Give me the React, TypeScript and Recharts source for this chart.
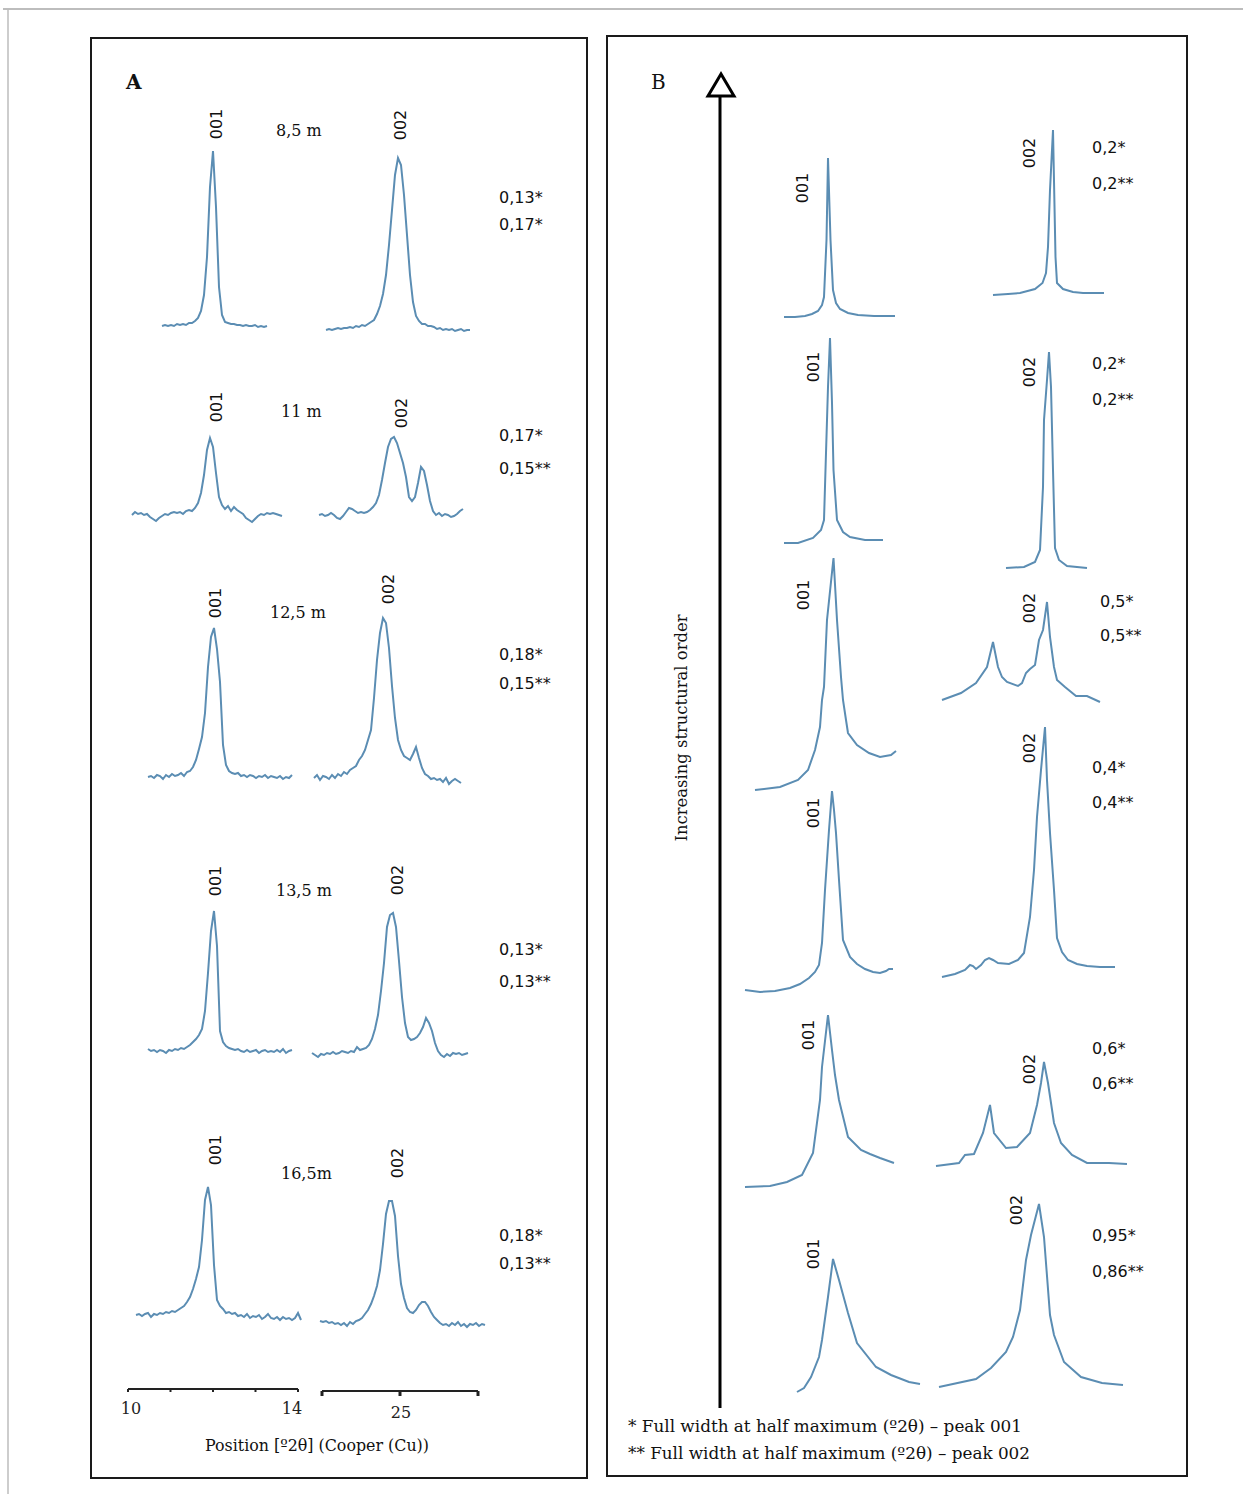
import { LineChart, Line, XAxis, YAxis } from 'recharts';

// ---- panel A: measured XRD profiles (counts above background, sampling step = 3 units) ----
const a1_001 = [1, 2, 1, 2, 1, 3, 2, 3, 2, 4, 4, 6, 9, 16, 32, 70, 140, 176, 120, 40, 12, 5, 4, 3, 3, 2, 2, 1, 2, 1, 1, 2, 0, 1, 0, 1];
const a1_002 = [0, 1, 0, 1, 2, 1, 2, 2, 3, 2, 4, 3, 5, 4, 6, 8, 10, 16, 24, 36, 55, 85, 120, 155, 172, 165, 135, 95, 55, 28, 14, 9, 6, 6, 4, 4, 3, 1, 2, 0, 1, 0, 1, -1, 0, 1, -1, 0, 0];
const a2_001 = [0, 3, 1, 2, 0, 1, -2, -4, -6, -3, -1, 1, 0, 2, 3, 2, 3, 1, 4, 5, 4, 7, 12, 22, 40, 65, 77, 68, 42, 18, 10, 6, 9, 4, 8, 5, 3, 1, -3, -5, -7, -4, -1, 1, 0, 2, 1, 2, 1, 0, -1];
const a2_002 = [0, 1, -1, 0, 2, 0, -3, -4, -1, 3, 7, 6, 4, 2, 3, 2, 3, 5, 8, 12, 20, 35, 52, 68, 76, 78, 72, 62, 52, 38, 18, 14, 18, 32, 48, 44, 30, 14, 4, 0, 2, -1, 1, 0, -2, -1, 1, 4, 6];
const a3_001 = [0, 1, -1, 2, 1, -2, 2, 0, 3, 1, 2, 4, 1, 5, 6, 10, 17, 28, 40, 64, 110, 140, 149, 128, 95, 32, 12, 6, 4, 3, 4, 1, 2, 0, 2, 1, -1, 1, 0, 2, -1, 1, 0, -1, 1, -2, 0, -1, 2];
const a3_002 = [0, 3, -2, 2, 1, -1, 3, 0, 4, 2, 6, 4, 8, 10, 12, 18, 22, 28, 38, 48, 80, 118, 145, 160, 155, 130, 92, 60, 38, 28, 22, 20, 18, 24, 31, 20, 10, 4, 2, -1, 0, -2, -1, -4, 0, -6, -3, -1, -3, -5];
const a4_001 = [2, 0, 1, -1, 1, 0, -2, 1, 0, 2, 1, 3, 2, 4, 6, 9, 12, 16, 22, 40, 78, 120, 140, 105, 20, 9, 5, 3, 2, 1, 2, 0, -1, 1, -1, 0, 1, -2, 0, 1, -1, 0, -1, 1, -1, 2, -2, 0, 1];
const a4_002 = [0, -2, -4, -1, -2, 0, -1, 1, -1, 0, 2, 1, 0, 2, 1, 6, 3, 4, 5, 8, 14, 24, 38, 62, 90, 126, 138, 140, 126, 92, 56, 30, 16, 13, 14, 16, 20, 26, 35, 30, 22, 10, 2, -2, -4, -1, -3, 0, -1, 0, -2, -1, 0];
const a5_001 = [0, 1, -1, 1, 2, -2, 1, 0, 2, 1, 3, 2, 4, 3, 5, 7, 9, 13, 18, 26, 36, 48, 75, 115, 128, 110, 50, 15, 9, 6, 2, 3, 1, 2, -1, 0, -2, 1, -3, -1, -2, 0, -4, -2, 1, -3, -4, -2, -5, -2, -4, -3, -5, -3, 2, -5];
const a5_002 = [1, 0, 1, -1, 0, -2, -1, -3, -1, -4, 0, -2, 1, 2, 4, 8, 12, 18, 26, 36, 52, 78, 108, 121, 121, 106, 66, 38, 24, 14, 10, 9, 12, 17, 20, 20, 16, 10, 5, 2, -1, -3, -2, -4, -1, -3, 0, -4, -2, -5, -2, -3, -1, -4, -2, -3];

// ---- panel B: reference profiles as [position offset, counts] ----
const b1_001: [number, number][] = [[0, 0], [11, 0], [21, 1], [28, 3], [34, 6], [38, 12], [40, 20], [42.5, 77], [44, 159], [46.5, 77], [49, 27], [52, 14], [56, 8], [64, 4], [74, 2], [90, 1], [111, 1]];
const b1_002: [number, number][] = [[0, 0], [15, 1], [27, 2], [42, 6], [49.5, 12], [53, 22], [55, 48], [57, 105], [60, 165], [62.5, 38], [64, 12], [70, 6], [80, 3], [90, 2], [111, 2]];
const b2_001: [number, number][] = [[0, 0], [14, 0], [29, 5], [37, 13], [40, 23], [42, 90], [44, 156], [46, 205], [48, 140], [49.5, 73], [53, 23], [59, 11], [66, 6], [81, 3], [99, 3]];
const b2_002: [number, number][] = [[0, 0], [18, 1], [29, 6], [34, 18], [37, 81], [38, 148], [41, 188], [43, 216], [45, 181], [47, 98], [49, 20], [53, 8], [61, 2], [81, 0]];
const b3_001: [number, number][] = [[0, 0], [25, 3], [43, 10], [53, 20], [60, 40], [65, 63], [67, 90], [69, 103], [72, 170], [78.5, 232], [82, 170], [86, 113], [88, 90], [91, 70], [93, 57], [102, 45], [114, 37], [125, 33], [136, 35], [141, 39]];
const b3_002: [number, number][] = [[0, 2], [19, 9], [34, 19], [45, 35], [51, 60], [56, 35], [60, 25], [65, 20], [76, 16], [80, 19], [84, 29], [88, 33], [93, 37], [97, 62], [101, 72], [105, 100], [108, 65], [112, 35], [115, 22], [123, 15], [134, 6], [145, 6], [158, 0]];
const b4_001: [number, number][] = [[0, 2], [15, 0], [30, 1], [45, 4], [55, 8], [64, 14], [70, 20], [74, 27], [77, 49], [80, 102], [84, 162], [87, 201], [89, 182], [91, 159], [94, 112], [98, 52], [105, 35], [112, 28], [120, 23], [128, 20], [135, 19], [141, 21], [144, 23], [148, 23]];
const b4_002: [number, number][] = [[0, 0], [13, 3], [23, 7], [28, 12], [31, 11], [34, 8], [39, 12], [43, 17], [47, 19], [51, 17], [56, 14], [67, 13], [76, 17], [82, 24], [88, 60], [92, 107], [95, 160], [99, 207], [103, 250], [105, 197], [108, 144], [112, 87], [115, 39], [120, 25], [126, 17], [135, 13], [145, 11], [158, 10], [173, 10]];
const b5_001: [number, number][] = [[0, 0], [25, 1], [42, 5], [57, 12], [68, 34], [75, 87], [77, 120], [83, 172], [87, 137], [90, 112], [94, 87], [103, 50], [116, 37], [125, 33], [135, 29], [149, 24]];
const b5_002: [number, number][] = [[0, 0], [23, 3], [29, 11], [38, 12], [47, 33], [54, 61], [58, 33], [70, 18], [81, 19], [94, 33], [101, 61], [105, 83], [108, 104], [112, 83], [118, 43], [125, 23], [136, 11], [151, 3], [173, 3], [191, 2]];
const b6_001: [number, number][] = [[0, 0], [7, 4], [14, 15], [22, 35], [25, 52], [31, 95], [36, 133], [42, 112], [51, 79], [60, 49], [79, 25], [94, 17], [112, 10], [123, 8]];
const b6_002: [number, number][] = [[0, 0], [37, 8], [52, 19], [67, 35], [74, 50], [81, 77], [87, 127], [92, 152], [100, 183], [105, 150], [111, 72], [115, 52], [125, 25], [142, 10], [163, 4], [184, 2]];

// tick values for the position scale bars under panel A
const ticks001 = [10, 11, 12, 13, 14];
const ticks002 = [24, 25, 26];

const STEP = 3;
const BLUE = '#5b8db3';
const SERIF = '"DejaVu Serif", serif';
const SANS = '"DejaVu Sans", sans-serif';

type Pt = { x: number; y: number };
const fromSteps = (v: number[]): Pt[] => v.map((y, i) => ({ x: i * STEP, y }));
const fromPairs = (p: [number, number][]): Pt[] => p.map(([x, y]) => ({ x, y }));

// left = page x of first sample, base = page y of zero counts
function Trace({ data, left, base }: { data: Pt[]; left: number; base: number }) {
  const w = data[data.length - 1].x;
  const h = Math.max(...data.map((d) => d.y));
  const padB = 10;
  const padT = 4;
  const padX = 2;
  return (
    <div style={{ position: 'absolute', left: left - padX, top: base - h - padT }}>
      <LineChart width={w + padX * 2} height={h + padT + padB} data={data} margin={{ top: 0, right: 0, bottom: 0, left: 0 }}>
        <XAxis type="number" dataKey="x" domain={[-padX, w + padX]} hide />
        <YAxis type="number" domain={[-padB, h + padT]} hide />
        <Line type="linear" dataKey="y" stroke={BLUE} strokeWidth={2} dot={false} isAnimationActive={false} />
      </LineChart>
    </div>
  );
}

function ScaleBar({ ticks, label, nudge, left, y, width, tickSize, tickW }: {
  ticks: number[]; label: number[]; nudge: number[]; left: number; y: number; width: number; tickSize: number; tickW: number;
}) {
  const m = 12;
  const data = [{ x: ticks[0] }, { x: ticks[ticks.length - 1] }];
  const renderTick = (p: any) => {
    const v = p.payload.value;
    const k = label.indexOf(v);
    if (k < 0) return <g />;
    return (
      <text x={p.x + nudge[k]} y={p.y} dy={13} textAnchor="middle" fill="#222" fontSize={16} fontFamily={SERIF}>
        {v}
      </text>
    );
  };
  return (
    <div style={{ position: 'absolute', left: left - m, top: y - 10 }}>
      <LineChart width={width + m * 2} height={60} data={data} margin={{ top: 0, right: m, bottom: 0, left: m }}>
        <XAxis
          type="number"
          dataKey="x"
          domain={[ticks[0], ticks[ticks.length - 1]]}
          ticks={ticks}
          interval={0}
          height={50}
          tickSize={tickSize}
          tickMargin={9}
          axisLine={{ stroke: '#222', strokeWidth: 2 }}
          tickLine={{ stroke: '#222', strokeWidth: tickW }}
          tick={renderTick}
        />
        <YAxis type="number" domain={[0, 1]} hide />
        <Line dataKey="y" stroke="none" dot={false} isAnimationActive={false} />
      </LineChart>
    </div>
  );
}

const tracesA = [
  { d: a1_001, left: 162, base: 327 }, { d: a1_002, left: 326, base: 330 },
  { d: a2_001, left: 132, base: 515 }, { d: a2_002, left: 319, base: 515 },
  { d: a3_001, left: 148, base: 777 }, { d: a3_002, left: 314, base: 778 },
  { d: a4_001, left: 148, base: 1051 }, { d: a4_002, left: 312, base: 1053 },
  { d: a5_001, left: 136, base: 1315 }, { d: a5_002, left: 320, base: 1322 },
];
const tracesB = [
  { d: b1_001, left: 784, base: 317 }, { d: b1_002, left: 993, base: 295 },
  { d: b2_001, left: 784, base: 543 }, { d: b2_002, left: 1006, base: 568 },
  { d: b3_001, left: 755, base: 790 }, { d: b3_002, left: 942, base: 702 },
  { d: b4_001, left: 745, base: 992 }, { d: b4_002, left: 942, base: 977 },
  { d: b5_001, left: 745, base: 1187 }, { d: b5_002, left: 936, base: 1166 },
  { d: b6_001, left: 797, base: 1392 }, { d: b6_002, left: 939, base: 1387 },
];

// [text, cx, cy]
const peakLabels: [string, number, number][] = [
  ['001', 216, 124], ['002', 400, 125], ['001', 216, 407], ['002', 401, 413],
  ['001', 215, 603], ['002', 388, 589], ['001', 215, 881], ['002', 397, 880],
  ['001', 215, 1150], ['002', 397, 1163],
  ['001', 802, 188], ['002', 1029, 153], ['001', 813, 367], ['002', 1029, 372],
  ['001', 803, 595], ['002', 1029, 608], ['001', 813, 813], ['002', 1029, 748],
  ['001', 808, 1035], ['002', 1029, 1069], ['001', 813, 1254], ['002', 1016, 1210],
];
const depths: [string, number, number][] = [
  ['8,5 m', 276, 130], ['11 m', 281, 411], ['12,5 m', 270, 612], ['13,5 m', 276, 890], ['16,5m', 281, 1173],
];
const fwhm: [string, number, number][] = [
  ['0,13*', 499, 197], ['0,17*', 499, 224], ['0,17*', 499, 435], ['0,15**', 499, 468],
  ['0,18*', 499, 654], ['0,15**', 499, 683], ['0,13*', 499, 949], ['0,13**', 499, 981],
  ['0,18*', 499, 1235], ['0,13**', 499, 1263],
  ['0,2*', 1092, 147], ['0,2**', 1092, 183], ['0,2*', 1092, 363], ['0,2**', 1092, 399],
  ['0,5*', 1100, 601], ['0,5**', 1100, 635], ['0,4*', 1092, 767], ['0,4**', 1092, 802],
  ['0,6*', 1092, 1048], ['0,6**', 1092, 1083], ['0,95*', 1092, 1235], ['0,86**', 1092, 1271],
];

export default function App() {
  return (
    <div style={{ position: 'absolute', left: 0, top: 0, width: 1243, height: 1494, background: '#fff', overflow: 'hidden' }}>
      <svg width={1243} height={1494} style={{ position: 'absolute', left: 0, top: 0 }}>
        <line x1={3} y1={9} x2={1243} y2={9} stroke="#bdbdbd" strokeWidth={2} />
        <line x1={8} y1={9} x2={8} y2={1494} stroke="#bdbdbd" strokeWidth={1.5} />
        <rect x={91} y={38} width={496} height={1440} fill="none" stroke="#1a1a1a" strokeWidth={2} />
        <rect x={607} y={36} width={580} height={1440} fill="none" stroke="#1a1a1a" strokeWidth={2} />
        <text x={126} y={89} fontFamily={SERIF} fontWeight="bold" fontSize={20} fill="#111">A</text>
        <text x={651} y={89} fontFamily={SERIF} fontSize={20} fill="#111">B</text>
        <line x1={720} y1={94} x2={720} y2={1408} stroke="#000" strokeWidth={3} />
        <polygon points="721,74 708,96 734,96" fill="#fff" stroke="#000" strokeWidth={3} strokeLinejoin="miter" />
        <text transform="translate(681,728) rotate(-90)" textAnchor="middle" dominantBaseline="central"
          fontFamily={SERIF} fontSize={16} textLength={227} lengthAdjust="spacingAndGlyphs" fill="#111">
          Increasing structural order
        </text>
        {peakLabels.map(([t, x, y], i) => (
          <text key={'p' + i} transform={`translate(${x},${y}) rotate(-90)`} textAnchor="middle"
            dominantBaseline="central" fontFamily={SANS} fontSize={16} fill="#111">{t}</text>
        ))}
        {depths.map(([t, x, y], i) => (
          <text key={'d' + i} x={x} y={y} dominantBaseline="central" fontFamily={SERIF} fontSize={16} fill="#111">{t}</text>
        ))}
        {fwhm.map(([t, x, y], i) => (
          <text key={'f' + i} x={x} y={y} dominantBaseline="central" fontFamily={SANS} fontSize={16} fill="#111">{t}</text>
        ))}
        <text x={317} y={1445} textAnchor="middle" dominantBaseline="central" fontFamily={SERIF} fontSize={16}
          textLength={224} lengthAdjust="spacingAndGlyphs" fill="#111">Position [º2θ] (Cooper (Cu))</text>
        <text x={628} y={1426} dominantBaseline="central" fontFamily={SERIF} fontSize={16}
          textLength={394} lengthAdjust="spacingAndGlyphs" fill="#111">* Full width at half maximum (º2θ) – peak 001</text>
        <text x={628} y={1453} dominantBaseline="central" fontFamily={SERIF} fontSize={16}
          textLength={402} lengthAdjust="spacingAndGlyphs" fill="#111">** Full width at half maximum (º2θ) – peak 002</text>
      </svg>
      {tracesA.map((t, i) => (
        <Trace key={'a' + i} data={fromSteps(t.d)} left={t.left} base={t.base} />
      ))}
      {tracesB.map((t, i) => (
        <Trace key={'b' + i} data={fromPairs(t.d)} left={t.left} base={t.base} />
      ))}
      <ScaleBar ticks={ticks001} label={[10, 14]} nudge={[3, -6]} left={128} y={1389} width={170} tickSize={3} tickW={2} />
      <ScaleBar ticks={ticks002} label={[25]} nudge={[1]} left={322} y={1391} width={156} tickSize={5} tickW={3} />
    </div>
  );
}
